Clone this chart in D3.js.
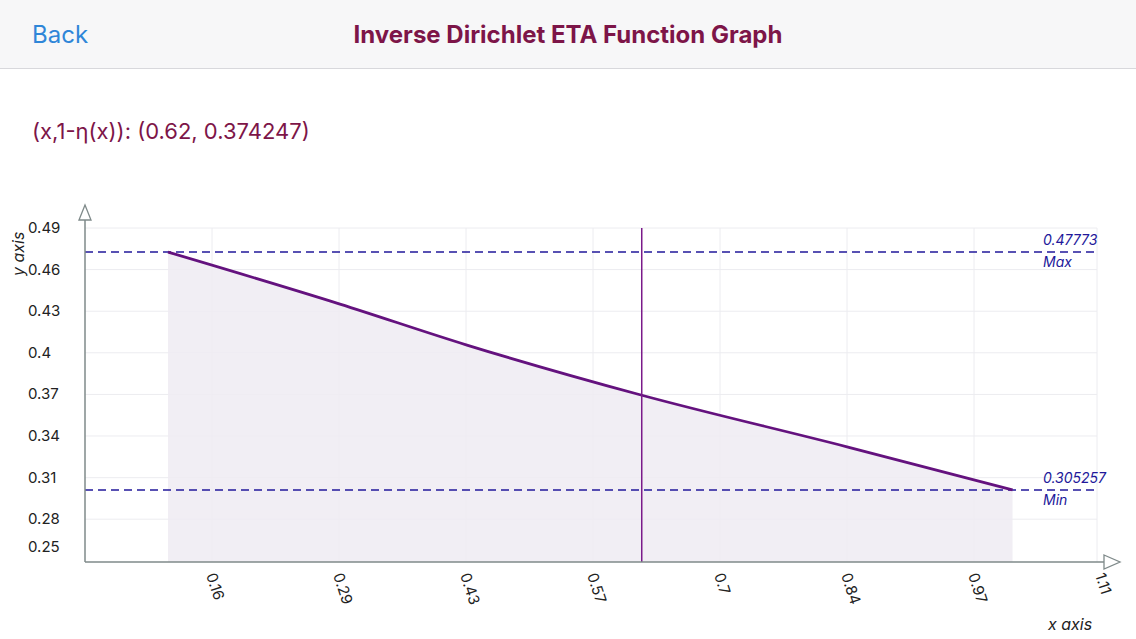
<!DOCTYPE html><html><head><meta charset="utf-8"><script src="https://cdn.jsdelivr.net/npm/d3@7"></script>
<style>body{margin:0;background:#fff;font-family:Inter,"Open Sans",sans-serif}</style></head><body><svg id="c" width="1136" height="639"></svg>
<script>
const xs=[0.1132,0.296,0.431,0.616,0.836,1.011];
const ys=[0.4777,0.4400,0.4103,0.3741,0.3364,0.3053];
const xTicks=[0.16,0.295,0.43,0.565,0.70,0.835,0.97,1.105];
const xTickLabels=["0.16","0.29","0.43","0.57","0.7","0.84","0.97","1.11"];
const yTicks=[0.4951,0.4650,0.4348,0.4047,0.3745,0.3444,0.3142,0.2841];
const yTickLabels=["0.49","0.46","0.43","0.4","0.37","0.34","0.31","0.28"];
const yMax=0.47773,yMin=0.305257,cursorX=0.62,cursorY=0.374247;
const svg=d3.select("#c");
const x=d3.scaleLinear().domain([0.16,1.105]).range([212,1101]);
const y=d3.scaleLinear().domain([yMin,yMax]).range([490,252]);
const X0=85,Y0=562,XR=1097,YT=228;
svg.append("rect").attr("width",1136).attr("height",68).attr("fill","#f7f7f8");
svg.append("line").attr("x1",0).attr("x2",1136).attr("y1",68.5).attr("y2",68.5).attr("stroke","#d8d8dc");
svg.append("text").attr("x",32).attr("y",43).attr("font-size",24).attr("fill","#2f86d8").text("Back");
svg.append("text").attr("x",568).attr("y",43).attr("text-anchor","middle").attr("font-size",24).attr("font-weight","bold").attr("fill","#7d1548").text("Inverse Dirichlet ETA Function Graph");
svg.append("text").attr("x",32).attr("y",139).attr("font-size",22).attr("fill","#7d1548").text(`(x,1-η(x)): (${cursorX}, ${cursorY})`);
const g=svg.append("g").attr("stroke","#ececf0").attr("stroke-width",1);
yTicks.forEach(v=>g.append("line").attr("x1",X0).attr("x2",XR).attr("y1",y(v)).attr("y2",y(v)));
xTicks.slice(0,-1).forEach(v=>g.append("line").attr("x1",x(v)).attr("x2",x(v)).attr("y1",YT).attr("y2",Y0));
g.append("line").attr("x1",XR).attr("x2",XR).attr("y1",YT).attr("y2",Y0);
const pts=xs.map((v,i)=>[v,ys[i]]);
svg.append("path").datum(pts).attr("fill","#eeebf2").attr("opacity",0.85)
 .attr("d",d3.area().x(d=>x(d[0])).y0(Y0).y1(d=>y(d[1])).curve(d3.curveMonotoneX));
[[yMax,"Max"],[yMin,"Min"]].forEach(([v,l])=>{
 svg.append("line").attr("x1",X0).attr("x2",1094).attr("y1",y(v)).attr("y2",y(v)).attr("stroke","#22189a").attr("stroke-width",1.3).attr("stroke-dasharray","8,5");
 svg.append("text").attr("x",1043).attr("y",y(v)-7).attr("font-size",14).attr("font-style","italic").attr("fill","#22189a").text(v);
 svg.append("text").attr("x",1043).attr("y",y(v)+15).attr("font-size",14).attr("font-style","italic").attr("fill","#22189a").text(l);
});
svg.append("path").datum(pts).attr("fill","none").attr("stroke","#64127e").attr("stroke-width",2.8)
 .attr("d",d3.line().x(d=>x(d[0])).y(d=>y(d[1])).curve(d3.curveMonotoneX));
svg.append("line").attr("x1",x(cursorX)-3).attr("x2",x(cursorX)-3).attr("y1",YT).attr("y2",Y0).attr("stroke","#7a1a8a").attr("stroke-width",1.5);
svg.append("line").attr("x1",X0).attr("x2",1104).attr("y1",Y0).attr("y2",Y0).attr("stroke","#7f8a8a").attr("stroke-width",1.5);
svg.append("line").attr("x1",X0).attr("x2",X0).attr("y1",212).attr("y2",Y0).attr("stroke","#7f8a8a").attr("stroke-width",1.5);
svg.append("path").attr("d",`M1104,555L1120,562L1104,569Z`).attr("fill","#fff").attr("stroke","#7f8a8a").attr("stroke-width",1.3);
svg.append("path").attr("d",`M79,220L85,205L91,220Z`).attr("fill","#fff").attr("stroke","#7f8a8a").attr("stroke-width",1.3);
yTicks.forEach((v,i)=>svg.append("text").attr("x",28).attr("y",y(v)+5).attr("font-size",15).attr("fill","#222").text(yTickLabels[i]));
svg.append("text").attr("x",28).attr("y",552).attr("font-size",15).attr("fill","#222").text("0.25");
xTicks.forEach((v,i)=>svg.append("text").attr("transform",`translate(${x(v)-6},${575}) rotate(72)`).attr("font-size",15).attr("fill","#222").text(xTickLabels[i]));
svg.append("text").attr("x",1048).attr("y",630).attr("font-size",16).attr("font-style","italic").attr("fill","#222").text("x axis");
svg.append("text").attr("transform","translate(24,276) rotate(-90)").attr("font-size",16).attr("font-style","italic").attr("fill","#222").text("y axis");
</script></body></html>
